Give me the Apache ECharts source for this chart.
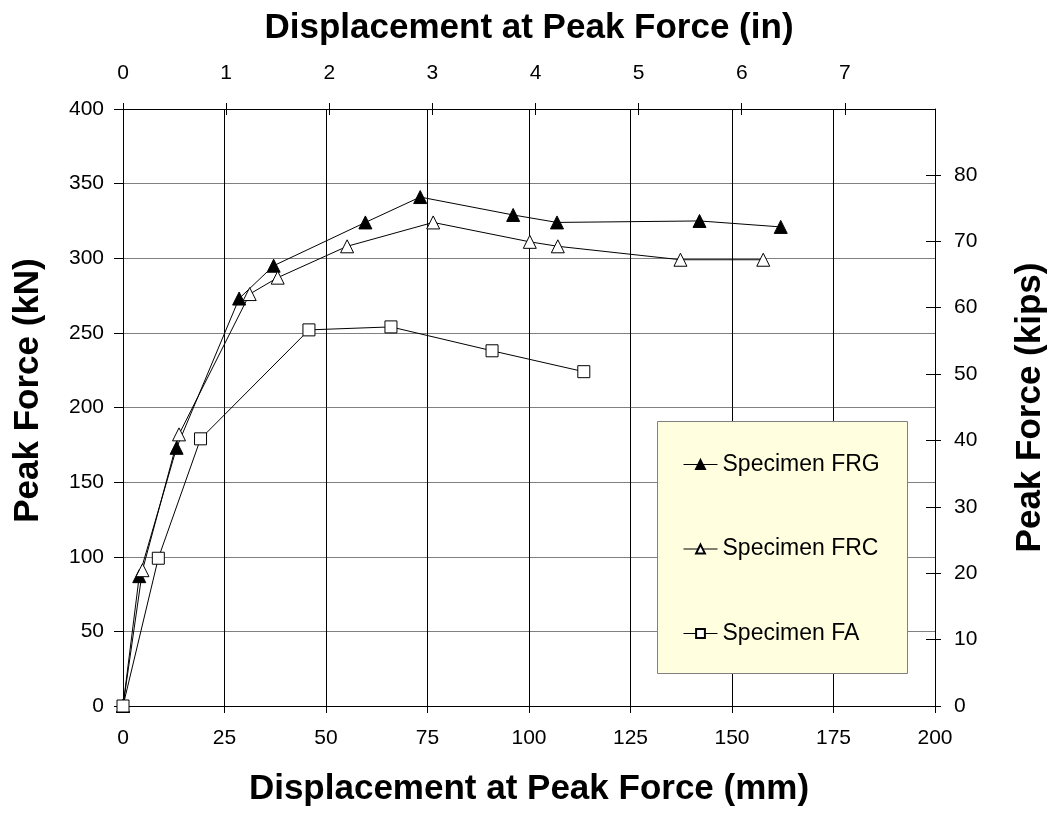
<!DOCTYPE html>
<html>
<head>
<meta charset="utf-8">
<script src="https://cdn.jsdelivr.net/npm/echarts@6/dist/echarts.min.js"></script>
<style>
html,body{margin:0;padding:0;background:#fff;}
#chart{width:1056px;height:814px;}
</style>
</head>
<body>
<div id="chart"></div>
<script>
// Data (displacement in mm, peak force in kN)
const seriesNames = ['Specimen FRG', 'Specimen FRC', 'Specimen FA'];
const frgX = [0, 4.0, 13.2, 28.6, 37.1, 59.7, 73.2, 96.1, 106.9, 142.0, 162.0];
const frgY = [0, 87, 173, 273, 295, 324, 341, 329, 324, 325, 321];
const frcX = [0, 4.8, 13.8, 31.2, 38.1, 55.2, 76.4, 100.2, 107.1, 137.3, 157.7];
const frcY = [0, 91, 182, 276, 287, 308, 324, 311, 308, 299, 299];
const faX = [0, 8.7, 19.1, 45.8, 66.0, 90.9, 113.5];
const faY = [0, 99, 179, 252, 254, 238, 224];

const mmTicks = [0, 25, 50, 75, 100, 125, 150, 175, 200];
const inTicks = [0, 1, 2, 3, 4, 5, 6, 7];
const kNTicks = [0, 50, 100, 150, 200, 250, 300, 350, 400];
const kipTicks = [0, 10, 20, 30, 40, 50, 60, 70, 80];

const MM_PER_IN = 25.4;
const KN_PER_KIP = 4.448222;

const pairs = (xs, ys) => xs.map((x, i) => [x, ys[i]]);
const FONT = '"Liberation Sans", Arial, sans-serif';

const chart = echarts.init(document.getElementById('chart'), null, {renderer: 'canvas'});

const labelStyle = {color: '#000', fontSize: 21, fontFamily: FONT};
const nameStyle = {color: '#000', fontSize: 35, fontWeight: 'bold', fontFamily: FONT};
const black = {color: '#000', width: 1};

const option = {
  backgroundColor: '#fff',
  animation: false,
  grid: {left: 123, right: 119, top: 109, bottom: 108, containLabel: false},
  graphic: [{
    type: 'rect', left: 657, top: 421, z: 50,
    shape: {width: 250, height: 252},
    style: {fill: '#FFFFE0', stroke: '#808080', lineWidth: 1}
  }],
  legend: {
    data: seriesNames,
    orient: 'vertical',
    left: 678, top: 448,
    itemWidth: 34, itemHeight: 11,
    itemGap: 61.5,
    itemTextGap: 6,
    z: 60,
    lineStyle: {width: 1},
    textStyle: {color: '#000', fontSize: 23, fontFamily: FONT},
    inactiveColor: '#000'
  },
  xAxis: [{
    type: 'value', position: 'bottom', min: 0, max: 200, interval: 25,
    name: 'Displacement at Peak Force (mm)', nameLocation: 'middle', nameGap: 66,
    nameTextStyle: nameStyle,
    axisLine: {show: true, onZero: false, lineStyle: black},
    axisTick: {show: true, length: 7, lineStyle: black},
    axisLabel: Object.assign({margin: 22, formatter: v => mmTicks.includes(v) ? String(v) : ''}, labelStyle),
    splitLine: {show: true, lineStyle: {color: '#000', width: 1}}
  }, {
    type: 'value', position: 'top', min: 0, max: 200 / MM_PER_IN, interval: 1,
    name: 'Displacement at Peak Force (in)', nameLocation: 'middle', nameGap: 63,
    nameTextStyle: nameStyle,
    axisLine: {show: true, onZero: false, lineStyle: black},
    axisTick: {show: true, length: 6, lineStyle: black},
    axisLabel: Object.assign({margin: 25, showMaxLabel: false, formatter: v => inTicks.includes(v) ? String(v) : ''}, labelStyle),
    splitLine: {show: false}
  }, {
    // inner half of the crossing ticks on the inch axis
    type: 'value', position: 'top', min: 0, max: 200 / MM_PER_IN, interval: 1,
    axisLine: {show: false, onZero: false},
    axisTick: {show: true, inside: true, length: 6, lineStyle: black},
    axisLabel: {show: false},
    splitLine: {show: false}
  }],
  yAxis: [{
    type: 'value', position: 'left', min: 0, max: 400, interval: 50,
    name: 'Peak Force (kN)', nameLocation: 'middle', nameGap: 77,
    nameTextStyle: Object.assign({padding: [0, 0, 0, 34]}, nameStyle),
    axisLine: {show: true, onZero: false, lineStyle: black},
    axisTick: {show: true, length: 9, lineStyle: black},
    axisLabel: Object.assign({margin: 19, formatter: v => kNTicks.includes(v) ? String(v) : ''}, labelStyle),
    splitLine: {show: true, lineStyle: {color: '#808080', width: 1}}
  }, {
    type: 'value', position: 'right', min: 0, max: 400 / KN_PER_KIP, interval: 10,
    name: 'Peak Force (kips)', nameLocation: 'middle', nameGap: 78, nameRotate: 90,
    nameTextStyle: nameStyle,
    axisLine: {show: true, onZero: false, lineStyle: black},
    axisTick: {show: true, length: 6, lineStyle: black},
    axisLabel: Object.assign({margin: 19, showMaxLabel: false, formatter: v => kipTicks.includes(v) ? String(v) : ''}, labelStyle),
    splitLine: {show: false}
  }, {
    // inner half of the crossing ticks on the kips axis
    type: 'value', position: 'right', min: 0, max: 400 / KN_PER_KIP, interval: 10,
    axisLine: {show: false, onZero: false},
    axisTick: {show: true, inside: true, length: 9, lineStyle: black},
    axisLabel: {show: false},
    splitLine: {show: false}
  }],
  series: [{
    name: seriesNames[0], type: 'line', xAxisIndex: 0, yAxisIndex: 0,
    data: pairs(frgX, frgY),
    symbol: 'triangle', symbolSize: 13, showAllSymbol: true,
    lineStyle: {color: '#000', width: 1},
    itemStyle: {color: '#000', borderColor: '#000', borderWidth: 1},
    z: 3
  }, {
    name: seriesNames[1], type: 'line', xAxisIndex: 0, yAxisIndex: 0,
    data: pairs(frcX, frcY),
    symbol: 'triangle', symbolSize: 13, showAllSymbol: true,
    lineStyle: {color: '#000', width: 1},
    itemStyle: {color: '#fff', borderColor: '#000', borderWidth: 1},
    z: 3
  }, {
    name: seriesNames[2], type: 'line', xAxisIndex: 0, yAxisIndex: 0,
    data: pairs(faX, faY),
    symbol: 'rect', symbolSize: 12, showAllSymbol: true,
    lineStyle: {color: '#000', width: 1},
    itemStyle: {color: '#fff', borderColor: '#000', borderWidth: 1},
    z: 3
  }]
};
chart.setOption(option);
</script>
</body>
</html>
